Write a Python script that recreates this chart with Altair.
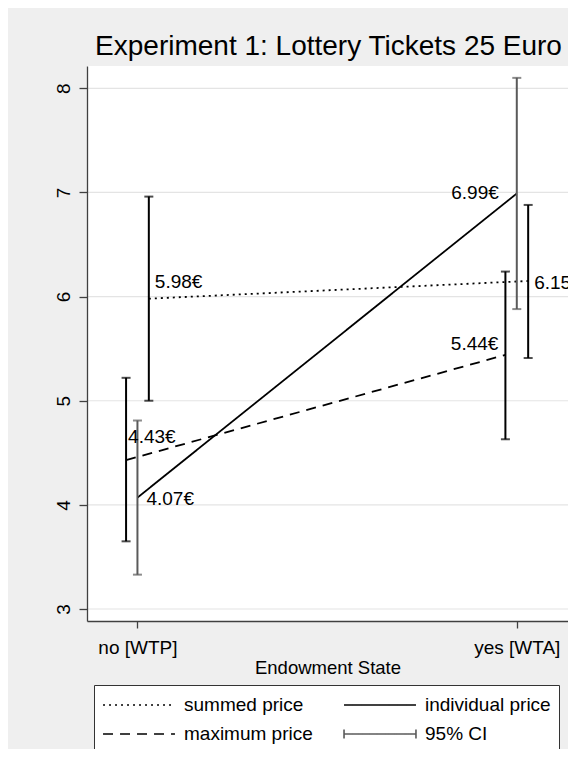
import altair as alt
import pandas as pd

# ---------------- data ----------------
states = ["no [WTP]", "yes [WTA]"]
state_pos = [0, 1]
series = ["summed price", "individual price", "maximum price"]
ci_name = "95% CI"

summed_mean = [5.98, 6.15]
summed_lo = [5.00, 5.41]
summed_hi = [6.96, 6.88]

individual_mean = [4.07, 6.99]
individual_lo = [3.33, 5.88]
individual_hi = [4.81, 8.10]

maximum_mean = [4.43, 5.44]
maximum_lo = [3.65, 4.63]
maximum_hi = [5.22, 6.24]

y_ticks = [3, 4, 5, 6, 7, 8]

# horizontal dodge of each series (in x-axis units)
dodge = {"summed price": 0.03, "individual price": 0.0, "maximum price": -0.03}

rows = []
for name, m, lo, hi in [
    ("summed price", summed_mean, summed_lo, summed_hi),
    ("individual price", individual_mean, individual_lo, individual_hi),
    ("maximum price", maximum_mean, maximum_lo, maximum_hi),
]:
    for i, st in enumerate(states):
        rows.append({
            "series": name, "state": st, "si": i,
            "pos": state_pos[i] + dodge[name],
            "mean": m[i], "lo": lo[i], "hi": hi[i],
            "label": f"{m[i]:.2f}€",
        })
df = pd.DataFrame(rows)
df_line = df.assign(key=df["series"])
df_ci = df.assign(key=ci_name)
df_grid = pd.DataFrame({"tick": y_ticks})
df_one = pd.DataFrame({"a": [0]})

FONT = "Liberation Sans"
BLACK = "#000000"
GRAY = "#5a5a5a"
BG = "#efefef"

W, H = 481, 555
PAD = {"left": 79, "top": 58, "right": 0, "bottom": 128}

# legend order (filled column by column): summed, maximum | individual, CI
keys = [series[0], series[2], series[1], ci_name]
dashes = [[2, 4], [10, 7], [1, 0], [1, 0]]
L = 3.27  # half symbol length in symbol units
line_path = f"M-{L},0H{L}"
ci_path = f"M-{L},0H{L}M-{L},-0.41V0.41M{L},-0.41V0.41"

x_scale = alt.Scale(domain=[-0.133, 1.135], nice=False, zero=False)
y_scale = alt.Scale(domain=[2.885, 8.214], nice=False, zero=False)

label_expr = "[" + ",".join(f"'{s}'" for s in states) + "][datum.value]"

x_enc = alt.X("pos:Q", scale=x_scale,
              axis=alt.Axis(values=state_pos, labelExpr=label_expr, grid=False,
                            title="Endowment State", tickSize=7, labelPadding=10,
                            titlePadding=1, zindex=1))

leg = alt.Legend(
    title=None, orient="none", legendX=7, legendY=619, columns=2,
    symbolSize=484, symbolStrokeWidth=1.6, symbolOpacity=1,
    symbolOffset=25, labelOffset=33,
    labelFontSize=19, labelFont=FONT,
    labelColor=BLACK, labelLimit=300,
    fillColor="white", strokeColor="#333333", padding=8,
    rowPadding=7, columnPadding=27, zindex=1,
)

dash_enc = alt.StrokeDash(
    "key:N", scale=alt.Scale(domain=keys, range=dashes), legend=leg,
)
shape_enc = alt.Shape(
    "key:N",
    scale=alt.Scale(domain=keys, range=[line_path, line_path, line_path, ci_path]),
    legend=leg,
)
color_enc = alt.Color(
    "key:N",
    scale=alt.Scale(domain=keys, range=[BLACK, BLACK, BLACK, GRAY]),
    legend=leg,
)

ci_color = alt.condition(alt.datum.series == "individual price",
                         alt.value(GRAY), alt.value(BLACK))

# page background and white plot region
bg = alt.Chart(df_one).mark_rect(color=BG).encode(
    x=alt.value(-PAD["left"]), x2=alt.value(W + PAD["right"]),
    y=alt.value(-PAD["top"]), y2=alt.value(H + PAD["bottom"]))
plot_bg = alt.Chart(df_one).mark_rect(color="white").encode(
    x=alt.value(0), x2=alt.value(W), y=alt.value(0), y2=alt.value(H))

grid = alt.Chart(df_grid).mark_rule(color="#e4e4e4", strokeWidth=1.2).encode(
    y=alt.Y("tick:Q", scale=y_scale))

lines = alt.Chart(df_line).mark_line(strokeWidth=1.8, color=BLACK, strokeCap="butt").encode(
    x=x_enc,
    y=alt.Y("mean:Q", scale=y_scale,
            axis=alt.Axis(values=y_ticks, format="d", title=None, labelAngle=270,
                          tickSize=8, labelPadding=6, labelAlign="center",
                          labelBaseline="bottom", grid=False, zindex=1)),
    strokeDash=dash_enc,
    detail="series:N",
)

# invisible layer that only feeds the legend symbols
legend_feed = alt.Chart(df_line).mark_point(opacity=0, filled=False).encode(
    x="pos:Q", y="mean:Q", shape=shape_enc, color=color_enc, strokeDash=dash_enc,
)

ci = alt.Chart(df_ci).mark_rule(strokeWidth=2).encode(
    x="pos:Q", y="lo:Q", y2="hi:Q", color=ci_color, strokeDash=dash_enc,
)
cap_lo = alt.Chart(df).mark_tick(orient="horizontal", size=9, thickness=2).encode(
    x="pos:Q", y="lo:Q", color=ci_color)
cap_hi = alt.Chart(df).mark_tick(orient="horizontal", size=9, thickness=2).encode(
    x="pos:Q", y="hi:Q", color=ci_color)

# value labels: (series, state index, align, dx, dy)
label_style = [
    ("summed price", 0, "left", 6, -17),
    ("summed price", 1, "left", 6, 2),
    ("individual price", 0, "left", 9, 1),
    ("individual price", 1, "right", -18, 0),
    ("maximum price", 0, "left", 2, -23),
    ("maximum price", 1, "right", -7, -11),
]
texts = []
for s, i, al, dx, dy in label_style:
    texts.append(
        alt.Chart(df).transform_filter(
            (alt.datum.series == s) & (alt.datum.si == i)
        ).mark_text(align=al, baseline="middle", dx=dx, dy=dy, fontSize=19,
                    font=FONT, color=BLACK).encode(
            x="pos:Q", y="mean:Q", text="label:N")
    )

chart = alt.layer(bg, plot_bg, grid, lines, legend_feed, ci, cap_lo, cap_hi,
                  *texts).properties(
    width=W, height=H,
    title=alt.TitleParams("Experiment 1: Lottery Tickets 25 Euro", fontSize=28,
                          font=FONT, fontWeight="normal", color=BLACK,
                          anchor="middle", frame="group", offset=0, dy=75, dx=1,
                          baseline="alphabetic", zindex=1),
    autosize=alt.AutoSizeParams(type="none"),
    padding=PAD,
    background=BG,
).configure_view(fill="white", stroke=None).configure_axis(
    labelFont=FONT, titleFont=FONT, labelFontSize=19, titleFontSize=18.5,
    titleFontWeight="normal", labelColor=BLACK, titleColor=BLACK,
    domainColor="#404040", tickColor="#404040", domainWidth=1.3, tickWidth=1.3,
)

chart.save("out.html", embed_options={"renderer": "svg", "actions": False})
